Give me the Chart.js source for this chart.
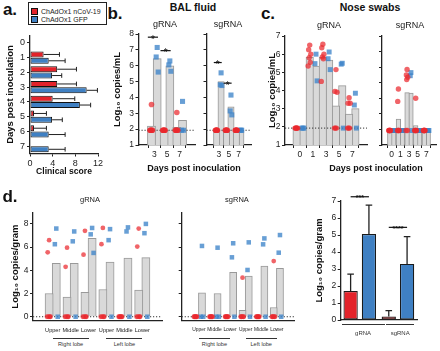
<!DOCTYPE html>
<html><head><meta charset="utf-8">
<script src="https://cdn.jsdelivr.net/npm/chart.js@4.4.1/dist/chart.umd.min.js"></script>
<style>
html,body{margin:0;padding:0;background:#fff;width:440px;height:351px;overflow:hidden;}
#root{position:relative;width:440px;height:351px;font-family:'Liberation Sans',Arial,Helvetica,sans-serif;color:#1a1a1a;}
canvas{position:absolute;}
.t{position:absolute;white-space:nowrap;line-height:1;transform:translate(-50%,-50%);}
.hl{position:absolute;height:0;border-top:1px solid #333;}
.legend{position:absolute;left:28px;top:2px;width:77px;height:21px;border:1px solid #222;font-size:7px;}
.legend .row{position:absolute;left:2px;height:7px;display:flex;align-items:center;}
.legend .sw{width:5px;height:5px;border:0.8px solid #111;margin-right:3px;}
</style></head><body><div id="root"></div>
<script>
// ================= DATA =================
// a. Clinical score (mean and mean+SD)
const aDays = ['0','1','2','3','4','5','6','7'];
const aNCoV = [null, 2.4, 4.8, 4.8, 4.0, 0.7, 0.7, null];
const aNCoVHi = [null, 5.2, 8.2, 8.2, 7.9, 2.9, 2.9, null];
const aGFP = [null, 3.3, 3.9, 10.0, 8.8, 3.9, 3.3, 3.3];
const aGFPHi = [null, 6.2, 5.6, 11.9, 10.7, 5.7, 6.2, 6.2];
const aScoreTicks = [0, 4, 8, 12];
const seriesNames = ['ChAdOx1 nCoV-19', 'ChAdOx1 GFP'];

// b. BAL fluid
const bDays = ['3','5','7'];
const bTicks = [1,2,3,4,5,6,7,8];
const lloqML = 1.93;
const bG_nCoVMean = [2.2, 1.93, 2.12];
const bG_GFPMean = [6.45, 6.0, 2.55];
const bG_nCoVPts = [[3.55,1.93,1.93,1.93,1.93,1.93],[1.93,1.93,1.93,1.93,1.93,1.93],[3.05,1.93,1.93,1.93,1.93,1.93]];
const bG_GFPPts = [[7.15,6.55,5.6],[6.3,6.05,5.65],[3.75,1.93,1.93]];
const bG_sig = [7.8, 6.95, null];
const bS_nCoVMean = [1.93, 1.93, 1.93];
const bS_GFPMean = [5.0, 3.4, 1.93];
const bS_nCoVPts = [[1.93,1.93,1.93,1.93,1.93,1.93],[1.93,1.93,1.93,1.93,1.93,1.93],[1.93,1.93,1.93,1.93,1.93,1.93]];
const bS_GFPPts = [[5.55,4.8,4.75],[4.15,3.15,2.9],[1.93,1.93,1.93]];
const bS_sig = [6.2, 4.9, null];
const sigStar = ['*','*','*'];

// c. Nose swabs
const cDays = ['0','1','3','5','7'];
const cG_Ticks = [1,2,3,4,5,6,7];
const cS_Ticks = [1,2,3,4,5,6,7,8];
const cG_nCoVMean = [1.93, 5.83, 5.83, 3.15, 2.7];
const cG_GFPMean = [1.93, 5.35, 5.68, 4.27, 3.0];
const cG_nCoVPts = [[1.93,1.93,1.93,1.93,1.93,1.93],[6.5,6.25,6.0,5.8,5.55,5.35],[6.55,6.35,6.0,5.85,5.75,4.5],[5.15,3.95,3.9,1.93,1.93,1.93],[3.6,3.3,3.3,1.93,1.93,1.93]];
const cG_GFPPts = [[1.93,1.93,1.93],[6.0,5.48,4.53],[6.12,5.75,5.15],[5.5,5.45,1.93],[3.85,3.2,1.93]];
const cS_nCoVMean = [1.93, 2.67, 4.36, 2.25, 1.93];
const cS_GFPMean = [1.93, 1.93, 4.33, 1.93, 1.93];
const cS_nCoVPts = [[1.93,1.93,1.93,1.93,1.93,1.93],[4.6,3.8,1.93,1.93,1.93,1.93],[5.85,5.5,5.35,5.2,1.93,1.93],[4.0,1.93,1.93,1.93,1.93,1.93],[1.93,1.93,1.93,1.93,1.93,1.93]];
const cS_GFPPts = [[1.93,1.93,1.93],[1.93,1.93,1.93],[5.65,5.45,1.93],[1.93,1.93,1.93],[1.93,1.93,1.93]];

// d. Lung tissue
const dSites = ['Upper','Middle','Lower','Upper','Middle','Lower'];
const dLobes = ['Right lobe','Left lobe'];
const dTicks = [0,1,2,3,4,5,6,7,8,9];
const lloqGram = 0;
const dG_nCoVMean = [2.0, 1.7, 2.1, 2.35, 0, 2.3];
const dG_GFPMean = [4.6, 4.6, 6.75, 4.7, 5.05, 5.1];
const dG_nCoVPts = [[6.6,5.55,0,0,0,0],[5.95,4.3,0,0,0,0],[7.4,5.35,0,0,0,0],[7.65,6.25,0,0,0,0],[0,0,0,0,0,0],[7.6,6.05,0,0,0,0]];
const dG_GFPPts = [[7.6,6.25,0],[7.35,6.5,0],[7.65,7.1,5.5],[7.55,6.6,0],[7.7,7.35,0],[8.0,7.2,0]];
const dS_nCoVMean = [0, 0, 0, 0.55, 0, 0.8];
const dS_GFPMean = [2.05, 2.0, 3.83, 3.5, 4.37, 4.17];
const dS_nCoVPts = [[0,0,0,0,0,0],[0,0,0,0,0,0],[0,0,0,0,0,0],[3.37,0,0,0,0,0],[0,0,0,0,0,0],[4.8,0,0,0,0,0]];
const dS_GFPPts = [[6.1,0,0],[5.95,0,0],[6.33,5.12,0],[6.41,4.03,0],[6.75,6.24,0],[7.04,5.52,0]];
// d. summary
const sumTargets = ['gRNA','sgRNA'];
const sumTicks = [0,1,2,3,4,5,6,7];
const sumNCoV = [1.7, 0.2];
const sumNCoVHi = [2.7, 0.55];
const sumGFP = [5.06, 3.3];
const sumGFPHi = [6.76, 4.9];
const sumSig = [7.25, 5.45];
const sumSigText = ['***','****'];

// ================= STYLE =================
const FF = "'Liberation Sans', Arial, Helvetica, sans-serif";
const RED = '#e3232a', BLUE = '#3f80c3';
const PT_RED = 'rgba(234,40,46,0.72)', PT_BLUE = 'rgba(62,132,201,0.78)';
const GRAY = '#d9d9d9', GRAY_B = '#999999', AXC = '#222';
const JIT = [0, -0.08, 0.08, -0.04, 0.04, -0.12];
Chart.defaults.font.family = FF;
Chart.defaults.color = '#222';
Chart.defaults.animation = false;
Chart.defaults.events = [];
Chart.defaults.plugins.legend.display = false;
Chart.defaults.plugins.tooltip.enabled = false;

const root = document.getElementById('root');

// ---------- plugins ----------
const lloqPlugin = {
  id: 'lloq',
  beforeDatasetsDraw(chart) { chart.$lloqDone = false; },
  beforeDatasetDraw(chart, args, opts) {
    if (!opts || opts.value == null || chart.$lloqDone) return;
    if (args.meta.type !== 'scatter') return;
    chart.$lloqDone = true;
    const ca = chart.chartArea, y = chart.scales.y.getPixelForValue(opts.value), ctx = chart.ctx;
    ctx.save(); ctx.strokeStyle = '#333'; ctx.lineWidth = 1; ctx.setLineDash([1.2, 1.8]);
    ctx.beginPath(); ctx.moveTo(ca.left, y); ctx.lineTo(ca.right, y); ctx.stroke(); ctx.restore();
  }
};
const sigPlugin = {
  id: 'sig',
  afterDatasetsDraw(chart, args, opts) {
    if (!opts || !opts.values) return;
    const ctx = chart.ctx, m0 = chart.getDatasetMeta(0), m1 = chart.getDatasetMeta(1), ys = chart.scales.y;
    opts.values.forEach((v, i) => {
      if (v == null) return;
      const a = m0.data[i], b = m1.data[i];
      const x1 = a.x - a.width * opts.ext1, x2 = b.x + b.width * opts.ext2;
      const py = ys.getPixelForValue(v);
      ctx.save(); ctx.strokeStyle = '#111'; ctx.lineWidth = 1.2;
      ctx.beginPath(); ctx.moveTo(x1, py); ctx.lineTo(x2, py); ctx.stroke();
      ctx.font = opts.weight + ' ' + opts.size + 'px ' + FF; ctx.fillStyle = '#111';
      ctx.textAlign = 'center'; ctx.textBaseline = 'alphabetic';
      ctx.fillText(opts.texts[i], (x1 + x2) / 2, py + opts.dy);
      ctx.restore();
    });
  }
};
const errPlugin = {
  id: 'err',
  afterDatasetsDraw(chart, args, opts) {
    const ctx = chart.ctx, horiz = chart.options.indexAxis === 'y';
    chart.data.datasets.forEach((ds, di) => {
      if (!ds.errHi) return;
      const meta = chart.getDatasetMeta(di);
      const vs = horiz ? chart.scales.x : chart.scales.y;
      meta.data.forEach((el, i) => {
        const hi = ds.errHi[i];
        if (hi == null || ds.data[i] == null) return;
        const p = vs.getPixelForValue(hi);
        ctx.save(); ctx.strokeStyle = '#222'; ctx.lineWidth = opts.width || 1; ctx.beginPath();
        if (horiz) { ctx.moveTo(el.x, el.y); ctx.lineTo(p, el.y); ctx.moveTo(p, el.y - opts.cap); ctx.lineTo(p, el.y + opts.cap); }
        else { ctx.moveTo(el.x, el.y); ctx.lineTo(el.x, p); ctx.moveTo(el.x - opts.cap, p); ctx.lineTo(el.x + opts.cap, p); }
        ctx.stroke(); ctx.restore();
      });
    });
  }
};
Chart.register(lloqPlugin, sigPlugin, errPlugin);

// ---------- helpers ----------
function place(b) {
  const left = Math.floor(b.L - b.aw), top = Math.floor(b.T - b.pt);
  const aw = b.L - left, pt = b.T - top;
  const w = Math.ceil(aw + (b.R - b.L) + b.pr), h = Math.ceil(pt + (b.B - b.T) + b.ah);
  return { left, top, w, h, aw, pt, pr: w - aw - (b.R - b.L), ah: h - pt - (b.B - b.T) };
}
function make(b, cfg) {
  const p = place(b);
  const c = document.createElement('canvas');
  c.width = p.w; c.height = p.h;
  c.style.left = p.left + 'px'; c.style.top = p.top + 'px';
  c.style.width = p.w + 'px'; c.style.height = p.h + 'px';
  root.appendChild(c);
  const o = cfg.options;
  o.responsive = false; o.animation = false; o.devicePixelRatio = 1;
  o.layout = { autoPadding: false, padding: { left: 0, top: p.pt, right: p.pr, bottom: 0 } };
  o.scales.y.afterFit = s => { s.width = p.aw; };
  o.scales.x.afterFit = s => { s.height = p.ah; };
  if (b.yTitleX != null) {
    const t = o.scales.y.title; t.padding = { top: b.yTitleX - p.left - t.font.size * 0.6, bottom: 0 };
  }
  if (b.xTitleY != null) {
    const t = o.scales.x.title; t.padding = { top: 0, bottom: Math.max(0, p.top + p.h - b.xTitleY - t.font.size * 0.6) };
  }
  const ch = new Chart(c, cfg);
  ch.$p = p;
  return ch;
}
function yLin(min, max, ticks, showLabels, title, tsize) {
  return {
    type: 'linear', position: 'left', min, max,
    afterBuildTicks: s => { s.ticks = ticks.map(v => ({ value: v })); },
    ticks: { font: { size: 8.5 }, color: '#222', padding: 1.5, callback: showLabels ? (v => String(v)) : (() => '') },
    grid: { display: true, drawOnChartArea: false, drawTicks: true, tickLength: 3, color: AXC, lineWidth: 1 },
    border: { display: true, color: AXC, width: 1.3 },
    title: title ? { display: true, text: title, font: { size: tsize, weight: 'bold' }, color: '#111' } : { display: false }
  };
}
function xCat(tickMarks, size, pad, show) {
  return {
    type: 'category', position: 'bottom', offset: true,
    ticks: { font: { size }, color: '#222', padding: pad, maxRotation: 0, minRotation: 0, autoSkip: false,
             callback: show === false ? (() => '') : function (v) { return this.getLabelForValue(v); } },
    grid: { display: tickMarks, offset: false, drawOnChartArea: false, drawTicks: tickMarks, tickLength: 3, color: AXC, lineWidth: 1 },
    border: { display: true, color: AXC, width: 1.3 }
  };
}
// group index axis as a linear scale: groups at 0..n-1, labelled from the category array
function xGroups(labels, tickMarks, size, pad) {
  const n = labels.length;
  return {
    type: 'linear', position: 'bottom', min: -0.5, max: n - 0.5,
    afterBuildTicks: s => { s.ticks = labels.map((_, i) => ({ value: i })); },
    ticks: { font: { size }, color: '#222', padding: pad, maxRotation: 0, minRotation: 0, autoSkip: false,
             callback: v => (labels[v] !== undefined ? labels[v] : '') },
    grid: { display: tickMarks, drawOnChartArea: false, drawTicks: tickMarks, tickLength: 3, color: AXC, lineWidth: 1 },
    border: { display: true, color: AXC, width: 1.3 }
  };
}
function groupChart(g) {
  const n = g.labels.length, off = g.catPct / 4;
  const band = (g.box.R - g.box.L) / n;
  const thick = band * g.catPct / 2 * 0.95;
  const bars = (arr, side) => arr.map((v, i) => ({ x: i + side * off, y: v }));
  const pts = (arr, side) => {
    const out = [];
    arr.forEach((vals, i) => vals.forEach((v, j) => out.push({ x: i + side * off + JIT[j % JIT.length], y: v })));
    return out;
  };
  const cfg = {
    type: 'bar',
    data: {
      datasets: [
        { type: 'bar', label: seriesNames[0], data: bars(g.leftMean, -1), backgroundColor: GRAY, borderColor: GRAY_B, borderWidth: 1,
          grouped: false, barThickness: thick, order: 2 },
        { type: 'bar', label: seriesNames[1], data: bars(g.rightMean, 1), backgroundColor: GRAY, borderColor: GRAY_B, borderWidth: 1,
          grouped: false, barThickness: thick, order: 2 },
        { type: 'scatter', label: seriesNames[0], data: pts(g.leftPts, -1), pointStyle: 'circle', pointRadius: g.r,
          pointBackgroundColor: PT_RED, pointBorderWidth: 0, pointBorderColor: 'rgba(0,0,0,0)', clip: false, order: 0 },
        { type: 'scatter', label: seriesNames[1], data: pts(g.rightPts, 1), pointStyle: 'rect', pointRadius: g.sq,
          pointBackgroundColor: PT_BLUE, pointBorderWidth: 0, pointBorderColor: 'rgba(0,0,0,0)', clip: false, order: 1 }
      ]
    },
    options: {
      scales: {
        x: xGroups(g.labels, g.tickMarks, g.xSize, g.xPad),
        y: yLin(g.min, g.max, g.ticks, g.showY, g.yTitle, g.yTitleSize)
      },
      plugins: {
        lloq: { value: g.lloq },
        sig: g.sig ? { values: g.sig, texts: sigStar, size: 10, weight: 'normal', dy: 5.5, ext1: 0.45, ext2: 0.1 } : {}
      }
    }
  };
  return make(g.box, cfg);
}

// ---------- text helpers ----------
function label(text, x, y, size, bold, color) {
  const d = document.createElement('div'); d.className = 't'; d.textContent = text;
  d.style.left = x + 'px'; d.style.top = y + 'px'; d.style.fontSize = size + 'px';
  if (bold) d.style.fontWeight = 'bold';
  if (color) d.style.color = color;
  root.appendChild(d); return d;
}
function hline(x1, x2, y) {
  const d = document.createElement('div'); d.className = 'hl';
  d.style.left = x1 + 'px'; d.style.top = y + 'px'; d.style.width = (x2 - x1) + 'px';
  root.appendChild(d);
}

// ================= PANEL a =================
make({ L: 30, T: 35.5, R: 98, B: 153.5, aw: 30, pt: 7.5, pr: 8, ah: 23.5, yTitleX: 10, xTitleY: 172 }, {
  type: 'bar',
  data: {
    labels: aDays,
    datasets: [
      { label: seriesNames[0], data: aNCoV, errHi: aNCoVHi, backgroundColor: RED, borderColor: '#111', borderWidth: 1,
        categoryPercentage: 0.86, barPercentage: 0.97, borderSkipped: false },
      { label: seriesNames[1], data: aGFP, errHi: aGFPHi, backgroundColor: BLUE, borderColor: '#111', borderWidth: 1,
        categoryPercentage: 0.86, barPercentage: 0.97, borderSkipped: false }
    ]
  },
  options: {
    indexAxis: 'y',
    scales: {
      y: { type: 'category', position: 'left', offset: true,
           ticks: { font: { size: 9 }, color: '#222', padding: 2 },
           grid: { display: true, offset: false, drawOnChartArea: false, drawTicks: true, tickLength: 3, color: AXC },
           border: { display: true, color: AXC, width: 1.3 },
           title: { display: true, text: 'Days post inoculation', font: { size: 9.5, weight: 'bold' }, color: '#111' } },
      x: { type: 'linear', position: 'bottom', min: 0, max: 12,
           afterBuildTicks: s => { s.ticks = aScoreTicks.map(v => ({ value: v })); },
           ticks: { font: { size: 9 }, color: '#222', padding: 1.2 },
           grid: { display: true, drawOnChartArea: false, drawTicks: true, tickLength: 3, color: AXC },
           border: { display: true, color: AXC, width: 1.3 },
           title: { display: true, text: 'Clinical score', font: { size: 8.6, weight: 'bold' }, color: '#111' } }
    },
    plugins: { err: { cap: 2.3, width: 1 } }
  }
});
// legend
(function () {
  const lg = document.createElement('div'); lg.className = 'legend';
  [RED, BLUE].forEach((col, i) => {
    const r = document.createElement('div'); r.className = 'row'; r.style.top = (4.5 + i * 8.5) + 'px';
    const sw = document.createElement('div'); sw.className = 'sw'; sw.style.background = col;
    const tx = document.createElement('span'); tx.textContent = seriesNames[i];
    r.appendChild(sw); r.appendChild(tx); lg.appendChild(r);
  });
  root.appendChild(lg);
})();

// ================= PANEL b =================
const bY = 'Log\u2081\u2080 copies/mL';
groupChart({ box: { L: 138.5, T: 34, R: 195.5, B: 145, aw: 32.5, pt: 10, pr: 2, ah: 16, yTitleX: 117 },
  labels: bDays, leftMean: bG_nCoVMean, rightMean: bG_GFPMean, leftPts: bG_nCoVPts, rightPts: bG_GFPPts,
  catPct: 0.9, r: 2.8, sq: 3.6, min: 1, max: 8, ticks: bTicks, showY: true, yTitle: bY, yTitleSize: 9.5,
  tickMarks: true, xSize: 8.5, xPad: 1.9, lloq: lloqML, sig: bG_sig });
groupChart({ box: { L: 206.5, T: 34, R: 251, B: 145, aw: 5, pt: 10, pr: 2, ah: 16 },
  labels: bDays, leftMean: bS_nCoVMean, rightMean: bS_GFPMean, leftPts: bS_nCoVPts, rightPts: bS_GFPPts,
  catPct: 0.9, r: 2.8, sq: 3.6, min: 1, max: 8, ticks: bTicks, showY: false,
  tickMarks: true, xSize: 8.5, xPad: 1.9, lloq: lloqML, sig: bS_sig });

// ================= PANEL c =================
groupChart({ box: { L: 285, T: 36, R: 367, B: 145, aw: 21, pt: 8, pr: 2, ah: 16, yTitleX: 272 },
  labels: cDays, leftMean: cG_nCoVMean, rightMean: cG_GFPMean, leftPts: cG_nCoVPts, rightPts: cG_GFPPts,
  catPct: 0.96, r: 2.7, sq: 3.5, min: 1, max: 7, ticks: cG_Ticks, showY: true, yTitle: bY, yTitleSize: 9.5,
  tickMarks: true, xSize: 8.5, xPad: 1.9, lloq: lloqML });
groupChart({ box: { L: 382, T: 36, R: 436, B: 145, aw: 5, pt: 8, pr: 2, ah: 16 },
  labels: cDays, leftMean: cS_nCoVMean, rightMean: cS_GFPMean, leftPts: cS_nCoVPts, rightPts: cS_GFPPts,
  catPct: 0.9, r: 2.7, sq: 3.5, min: 1, max: 8, ticks: cS_Ticks, showY: false,
  tickMarks: true, xSize: 8.5, xPad: 1.9, lloq: null });

// ================= PANEL d =================
const dY = 'Log\u2081\u2080 copies/gram';
const dG = groupChart({ box: { L: 33, T: 212.3, R: 162, B: 320.8, aw: 33, pt: 8, pr: 3, ah: 14, yTitleX: 15 },
  labels: dSites, leftMean: dG_nCoVMean, rightMean: dG_GFPMean, leftPts: dG_nCoVPts, rightPts: dG_GFPPts,
  catPct: 0.8, r: 2.4, sq: 3.2, min: -0.35, max: 9, ticks: dTicks, showY: true, yTitle: dY, yTitleSize: 9.5,
  tickMarks: false, xSize: 5.6, xPad: 5.8, lloq: lloqGram });
const dS = groupChart({ box: { L: 181.7, T: 212.3, R: 294, B: 320.8, aw: 5, pt: 8, pr: 2, ah: 14 },
  labels: dSites, leftMean: dS_nCoVMean, rightMean: dS_GFPMean, leftPts: dS_nCoVPts, rightPts: dS_GFPPts,
  catPct: 0.8, r: 2.4, sq: 3.2, min: -0.35, max: 9, ticks: dTicks, showY: false,
  tickMarks: false, xSize: 4.9, xPad: 6.2, lloq: lloqGram });

const dSum = make({ L: 340.7, T: 201, R: 417, B: 320, aw: 30.7, pt: 16, pr: 3, ah: 18, yTitleX: 319 }, {
  type: 'bar',
  data: {
    labels: sumTargets,
    datasets: [
      { label: seriesNames[0], data: sumNCoV, errHi: sumNCoVHi, backgroundColor: RED, borderColor: '#1a1a1a', borderWidth: 1.2,
        categoryPercentage: 0.96, barPercentage: 0.78, borderSkipped: false },
      { label: seriesNames[1], data: sumGFP, errHi: sumGFPHi, backgroundColor: BLUE, borderColor: '#1a1a1a', borderWidth: 1.2,
        categoryPercentage: 0.96, barPercentage: 0.78, borderSkipped: false }
    ]
  },
  options: {
    scales: {
      x: xCat(false, 6, 4, false),
      y: yLin(0, 7, sumTicks, true, dY, 9.5)
    },
    plugins: {
      err: { cap: 3.3, width: 1.3 },
      sig: { values: sumSig, texts: sumSigText, size: 7, weight: 'bold', dy: 3.5, ext1: 0, ext2: 0 }
    }
  }
});

// ================= TEXT & ANNOTATIONS =================
label('a.', 10, 9, 17, true, '#111');
label('b.', 115, 13, 17, true, '#111');
label('c.', 268, 13, 17, true, '#111');
label('d.', 10, 196, 17, true, '#111');
label('BAL fluid', 193, 7, 10.5, true, '#111');
label('Nose swabs', 370, 7, 10.5, true, '#111');
label('gRNA', 165, 24, 9);
label('sgRNA', 228, 24, 9);
label('gRNA', 329, 25, 9);
label('sgRNA', 410, 25, 9);
label('Days post inoculation', 194, 168, 9, true, '#111');
label('Days post inoculation', 376, 168, 9, true, '#111');
label('gRNA', 90, 200, 7.5);
label('sgRNA', 237, 200, 7.5);

// lobe brackets under d panels (from the chart scales)
[dG, dS].forEach(ch => {
  const sx = ch.scales.x, ox = ch.$p.left;
  [[0, 2], [3, 5]].forEach((rg, k) => {
    const x1 = ox + sx.getPixelForValue(rg[0]), x2 = ox + sx.getPixelForValue(rg[1]);
    hline(x1, x2, 337.8);
    label(dLobes[k], (x1 + x2) / 2, 344.5, 5.6, false, '#333');
  });
});
// summary group brackets
(function () {
  const sx = dSum.scales.x, ox = dSum.$p.left, band = sx.getPixelForValue(1) - sx.getPixelForValue(0);
  const c0 = ox + sx.getPixelForValue(0), c1 = ox + sx.getPixelForValue(1);
  const segs = [[ox + dSum.chartArea.left + 1, c0 + band * 0.65], [c1 - band * 0.3, c1 + band * 0.42]];
  segs.forEach((s, k) => {
    hline(s[0], s[1], 324);
    label(sumTargets[k], (s[0] + s[1]) / 2, 333, 6, false, '#333');
  });
})();
</script>
</body></html>
